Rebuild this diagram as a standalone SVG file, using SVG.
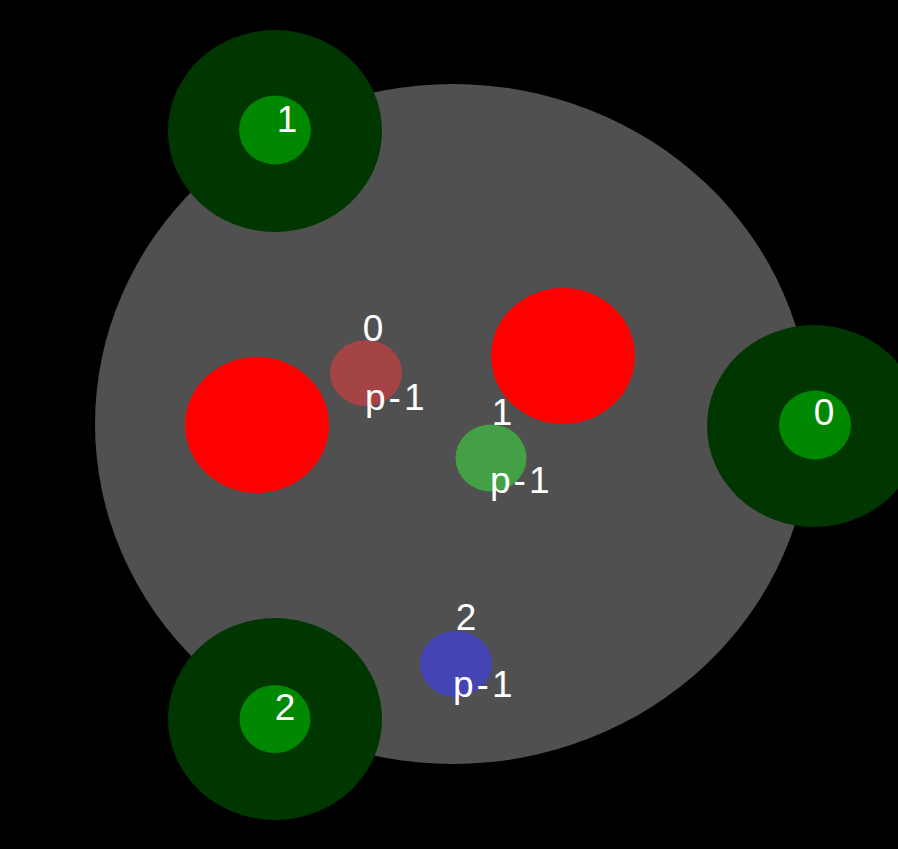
<svg xmlns="http://www.w3.org/2000/svg" width="898" height="849" viewBox="0 0 898 849">
  <style>
    .lbl { font-family: "Liberation Sans", Arial, sans-serif; font-size: 37px; fill: #ffffff; }
    .mid { text-anchor: middle; }
    .sub { letter-spacing: 3px; }
    .outer { fill: #003600; }
    .inner { fill: #008800; }
    .red { fill: #ff0000; }
  </style>
  <rect x="0" y="0" width="898" height="849" fill="#000000"/>
  <g id="arena">
    <ellipse cx="453" cy="424" rx="358" ry="340" fill="#505050"/>
  </g>
  <g id="obstacle-left">
    <ellipse class="red" cx="257" cy="425" rx="72" ry="68"/>
  </g>
  <g id="obstacle-right">
    <ellipse class="red" cx="563" cy="356" rx="72" ry="68"/>
  </g>
  <g id="robot-0">
    <ellipse cx="366" cy="373" rx="36" ry="33" fill="#a54444"/>
    <text class="lbl mid" x="373" y="341">0</text>
    <text class="lbl sub" x="365" y="410">p-1</text>
  </g>
  <g id="robot-1">
    <ellipse cx="491" cy="458" rx="35.5" ry="33.5" fill="#44a044"/>
    <text class="lbl mid" x="502" y="425">1</text>
    <text class="lbl sub" x="490" y="493">p-1</text>
  </g>
  <g id="robot-2">
    <ellipse cx="456" cy="664" rx="36" ry="33" fill="#4444b4"/>
    <text class="lbl mid" x="466" y="630">2</text>
    <text class="lbl sub" x="453" y="697">p-1</text>
  </g>
  <g id="goal-1">
    <ellipse class="outer" cx="275" cy="131" rx="107" ry="101"/>
    <ellipse class="inner" cx="275" cy="130" rx="36" ry="34.5"/>
    <text class="lbl mid" x="287" y="132">1</text>
  </g>
  <g id="goal-0">
    <ellipse class="outer" cx="814" cy="426" rx="107" ry="101"/>
    <ellipse class="inner" cx="815" cy="425" rx="36" ry="34.5"/>
    <text class="lbl mid" x="824" y="425">0</text>
  </g>
  <g id="goal-2">
    <ellipse class="outer" cx="275" cy="719" rx="107" ry="101"/>
    <ellipse class="inner" cx="275" cy="719" rx="35.5" ry="34"/>
    <text class="lbl mid" x="285" y="720">2</text>
  </g>
  <g id="connectors"/>
</svg>
